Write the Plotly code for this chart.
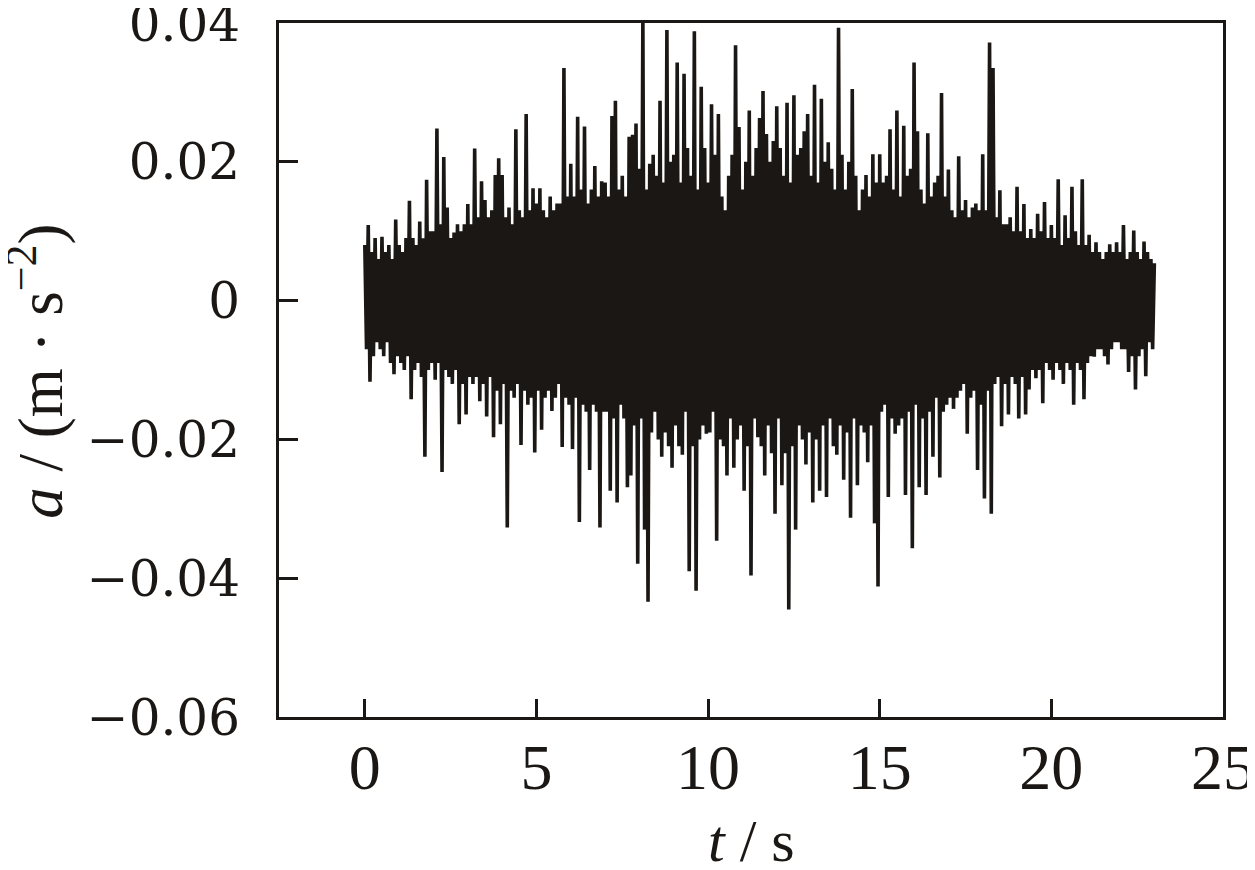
import numpy as np
import plotly.graph_objects as go

sample_interval_s = 0.05

accel_0_5s = [
    8, -7, 10.9, -11.7, 7, -8, 9, -6, 6, -7, 9.2, -8, 7, -6, 8, -9, 6, -10.6, 11.7, -8,
    8, -9, 7, -10, 9, -8, 14.4, -14.2, 9, -10, 8, -9, 11.4, -11, 9, -22.5, 17.4, -10, 10, -9,
    10, -11.4, 24.8, -9, 11, -24.7, 20.7, -10, 13.4, -11, 9, -12, 9.8, -10, 11, -17.8, 10, -12, 11, -16.4,
    13.9, -11, 11, -12, 21.9, -11, 12, -14.5, 17.2, -12, 14.5, -16.7, 12, -11, 13, -19.7, 18.1, -13, 20.5, -17.8,
    18.1, -12, 12, -32.7, 13.4, -13, 11, -14, 24.7, -12, 13, -20.8, 12, -13, 26.9, -15, 13, -14, 16.2, -21.9,
]
accel_5_10s = [
    14, -13, 16.2, -18.6, 13, -14, 12, -13, 15, -15.9, 13, -14, 14, -12, 14, -21.1, 33.5, -14, 15, -15,
    19.7, -21.4, 15, -14, 26.5, -31.9, 16, -15, 25.1, -16, 14, -24.4, 16, -15, 19.4, -16, 15, -32.7, 17.2, -16,
    17, -16, 15, -27.4, 26.6, -17, 28.8, -29.1, 16, -15, 18, -17, 15, -26.9, 23.6, -25.2, 23.9, -18, 25.5, -37.9,
    19, -17, 40.7, -33, 16, -43.4, 19.7, -19, 21, -16, 18, -20, 28.8, -22.5, 17, -19, 39, -21, 20, -24.1,
    21, -18, 34.3, -21, 17, -22.2, 32.7, -16, 22, -39, 18, -21, 38.8, -41.8, 16, -20, 30.8, -18, 22, -19.2,
]
accel_10_15s = [
    17, -19, 28.3, -16, 21, -34.6, 26.9, -20, 15, -21, 13, -25.2, 18, -17, 21, -24.1, 36.8, -20, 25, -18,
    16, -27.4, 20, -21, 27.4, -39.6, 18, -17, 22, -19.7, 26.3, -21, 30.2, -25.2, 24, -18, 20, -22, 23, -30.7,
    28, -17, 22, -26.6, 18, -22, 28.5, -44.5, 17, -21, 29.6, -33, 21, -18, 22, -20, 24.4, -23.6, 26.9, -19,
    18, -29.1, 31.1, -20, 17, -27.4, 29.1, -18, 20, -28.3, 22.8, -17, 19, -21, 16, -22.2, 39.3, -18, 21, -25.8,
    16, -19, 20, -31.3, 30.5, -17, 18, -26.6, 13, -18, 16, -19, 18.1, -23.3, 15, -18, 21.1, -32.1, 17, -41.2,
]
accel_15_20s = [
    21.1, -16, 17, -15, 18, -28.3, 24.7, -17, 16, -19.2, 27.4, -18, 15, -17, 25.2, -28, 18, -16, 19, -35.7,
    34.3, -15, 24.4, -26.9, 16, -17, 14, -28, 24.1, -16, 15, -22.5, 17, -14, 18, -25.5, 29.9, -16, 15, -15,
    18.9, -14, 13, -15.6, 12, -14, 20.8, -13, 13, -12, 14.5, -19.2, 12, -14, 13.4, -13, 14, -24.4, 13, -15,
    21.1, -28.5, 13, -13, 37.2, -30.7, 33.5, -12, 12, -11, 15.9, -18.1, 11, -12, 11, -16.4, 12, -11, 10, -12,
    16.4, -17, 10, -11, 13.9, -16.4, 9, -12.8, 10.3, -10, 9, -11.2, 12.5, -10, 10, -14.8, 14.2, -9, 9, -10,
]
accel_20_23s = [
    10.9, -11.4, 9, -9, 17.5, -10, 8, -12, 12.3, -9, 9, -10, 16.4, -15, 10, -9, 8, -10, 17.5, -14.2,
    8, -9, 9.5, -8, 7, -8.1, 8.4, -7, 7, -7, 6, -8, 7, -9.2, 8.1, -7, 7, -6, 8.4, -6,
    7, -7, 10.9, -7, 6, -10.3, 7, -8, 10.1, -12.8, 7, -8, 6, -7, 8.5, -10.9, 7, -6, 6, -7,
    5.4,
]

x_ticks = [0, 5, 10, 15, 20, 25]
y_ticks = [-0.06, -0.04, -0.02, 0, 0.02, 0.04]
y_tick_text = ["\u22120.06", "\u22120.04", "\u22120.02", "0", "0.02", "0.04"]

accel_milli = accel_0_5s + accel_5_10s + accel_10_15s + accel_15_20s + accel_20_23s
accel = np.array(accel_milli) / 1000.0
time_s = np.arange(len(accel)) * sample_interval_s

ink = "#1a1714"

fig = go.Figure()
fig.add_trace(go.Scatter(
    x=time_s, y=accel, mode="lines",
    line=dict(color=ink, width=3.6),
    showlegend=False,
))

fig.update_layout(
    width=1255, height=870,
    margin=dict(l=271, r=40, t=15, b=161, autoexpand=False),
    plot_bgcolor="white", paper_bgcolor="white",
    showlegend=False,
)

fig.update_xaxes(
    range=[-2.5, 25.00001], tickvals=x_ticks, ticktext=[str(v) for v in x_ticks],
    ticks="inside", ticklen=18, tickwidth=3, tickcolor=ink,
    showline=True, linewidth=3, linecolor=ink, mirror=True,
    showgrid=False, zeroline=False, automargin=False,
    tickfont=dict(family="Liberation Serif", size=64, color=ink),
    ticklabelstandoff=-8, ticklabeloverflow="allow",
)
fig.update_yaxes(
    range=[-0.0600001, 0.0400001], tickvals=y_ticks, ticktext=y_tick_text,
    ticks="inside", ticklen=19, tickwidth=3, tickcolor=ink,
    showline=True, linewidth=3, linecolor=ink, mirror=True,
    showgrid=False, zeroline=False, automargin=False,
    tickfont=dict(family="DejaVu Serif", size=50, color=ink),
    ticklabelstandoff=26, ticklabeloverflow="allow",
)

fig.add_annotation(
    text="<i>a</i> / (m \u00b7 s<sup>\u22122</sup>)",
    xref="paper", yref="paper", x=-0.2565, y=0.4986,
    xanchor="center", yanchor="middle", textangle=-90, showarrow=False,
    font=dict(family="Liberation Serif", size=63, color=ink),
)
fig.add_annotation(
    text="<i>t</i> / s",
    xref="paper", yref="paper", x=0.5, y=-0.178,
    xanchor="center", yanchor="middle", showarrow=False,
    font=dict(family="Liberation Serif", size=60, color=ink),
)

fig.write_html("out.html")
